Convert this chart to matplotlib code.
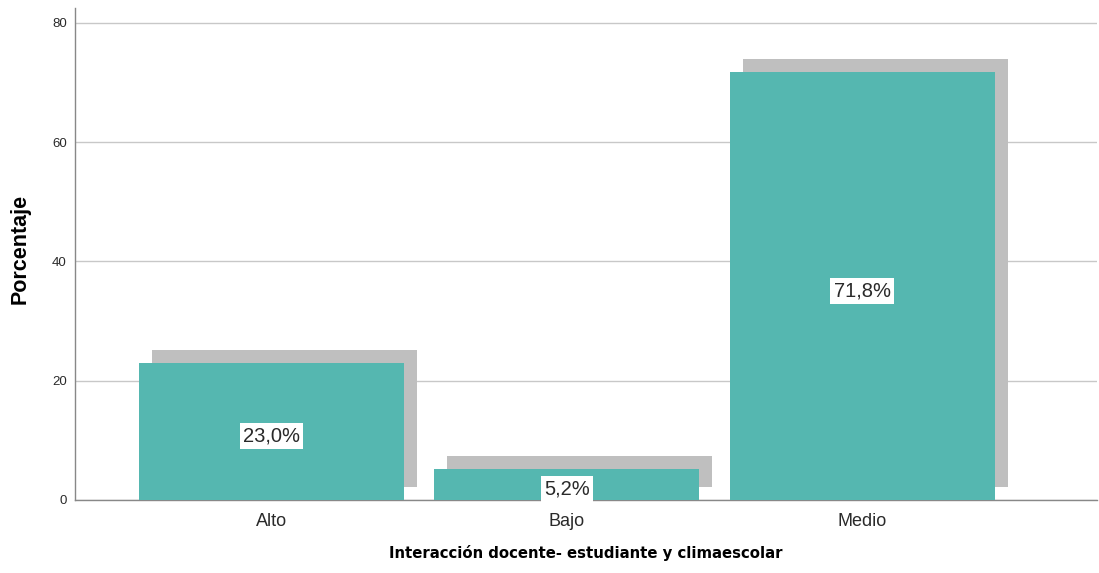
import matplotlib
matplotlib.use("Agg")
import matplotlib.pyplot as plt

categories = ["Alto", "Bajo", "Medio"]
values = [23.0, 5.2, 71.8]
labels = ["23,0%", "5,2%", "71,8%"]
yticks = [0, 20, 40, 60, 80]

fig = plt.figure(figsize=(10.99, 5.73), dpi=100)
ax = fig.add_axes([75/1099, 1-500/573, 1022/1099, 492/573])

x = list(range(len(categories)))
w = 0.897
dx = 0.044
dy = 2.2
ax.bar([i + dx for i in x], values, width=w, bottom=dy, color="#bfbfbf", zorder=2, linewidth=0)
ax.bar(x, values, width=w, color="#55b7b0", zorder=3, linewidth=0)

for i, (v, lab) in enumerate(zip(values, labels)):
    ax.annotate(lab, xy=(i, v / 2), xytext=(0, -3.5), textcoords="offset points",
                ha="center", va="center", fontsize=14.5, family="Liberation Sans",
                color="#2a2a2a", zorder=5,
                bbox=dict(facecolor="white", edgecolor="none", pad=2.5))

ax.set_xlim(-0.665, 2.794)
ax.set_ylim(0, 82.5)
ax.set_yticks(yticks)
ax.set_yticklabels([str(t) for t in yticks], fontsize=9.5, family="Liberation Sans", color="#2a2a2a")
ax.set_xticks(x)
ax.set_xticklabels(categories, fontsize=13, family="Liberation Sans", color="#2a2a2a")
ax.tick_params(axis="both", length=0)
ax.tick_params(axis="y", pad=6)
ax.tick_params(axis="x", pad=9)
ax.yaxis.grid(True, color="#c8c8c8", linewidth=1, zorder=0)
ax.set_axisbelow(True)
for s in ["top", "right"]:
    ax.spines[s].set_visible(False)
for s in ["left", "bottom"]:
    ax.spines[s].set_color("#888888")
    ax.spines[s].set_linewidth(1)

ax.set_xlabel("Interacción docente- estudiante y climaescolar", fontsize=10.7, fontweight="bold",
              family="DejaVu Sans", labelpad=11)
ax.set_ylabel("Porcentaje", fontsize=15.5, fontweight="bold", family="Liberation Sans")
ax.yaxis.set_label_coords(-0.043, 0.51)

fig.savefig("out.png", dpi=100, facecolor="white")
